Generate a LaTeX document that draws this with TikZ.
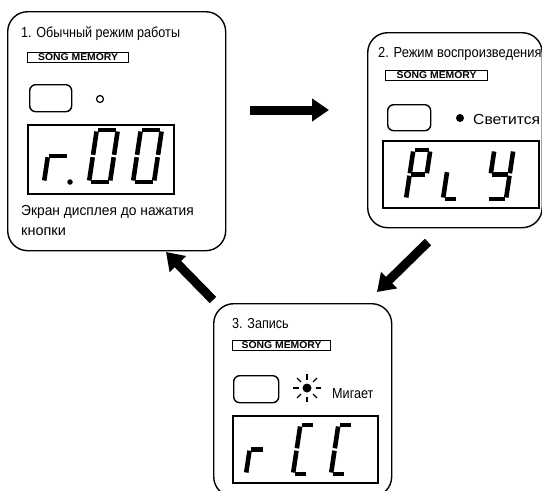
\documentclass[tikz,border=0pt]{standalone}
\usepackage{fontspec}
\setmainfont{Liberation Sans}
\usetikzlibrary{arrows.meta,calc}
\tikzset{
 panel/.style={draw, line width=1.4pt, rounded corners=20pt, anchor=north west, inner sep=0},
 smbox/.style={draw, line width=1.1pt, anchor=north west, inner sep=0, minimum height=10pt},
 btn/.style={draw, line width=1.4pt, rounded corners=6pt, anchor=north west, inner sep=0},
 disp/.style={draw, line width=1.8pt, anchor=north west, inner sep=0},
 lbl/.style={anchor=base west, inner sep=0, font=\fontsize{14.5}{16}\selectfont},
 segline/.style={line width=4.6pt},
 bigarrow/.style={line width=9pt, -{Triangle[width=22pt,length=17pt]}},
 ray/.style={line width=1.3pt},
}
\newcommand\smtext{\scalebox{1.05}[1]{\fontsize{9.9}{10}\selectfont\bfseries SONG MEMORY}}
\newcommand\tx[2]{\scalebox{#1}[1]{#2}}
\newcommand\sevdig[5]{%
\begin{scope}[shift={(#1,#2)}, y=1pt, xslant=0.15]
 \pgfmathsetmacro\hh{#4/2}
 \coordinate (sa1) at (1.5,#4); \coordinate (sa2) at (#3-1.5,#4);
 \coordinate (sb1) at (#3,#4-1.5); \coordinate (sb2) at (#3,\hh+1.2);
 \coordinate (sc1) at (#3,\hh-1.2); \coordinate (sc2) at (#3,1.5);
 \coordinate (sd1) at (1.5,0); \coordinate (sd2) at (#3-1.5,0);
 \coordinate (se1) at (0,1.5); \coordinate (se2) at (0,\hh-1.2);
 \coordinate (sf1) at (0,\hh+1.2); \coordinate (sf2) at (0,#4-1.5);
 \coordinate (sg1) at (1.5,\hh); \coordinate (sg2) at (#3-1.5,\hh);
 \foreach \s in {#5}{\draw[segline] (s\s1) -- (s\s2);}
\end{scope}}
\begin{document}
\begin{tikzpicture}[x=1pt,y=-1pt]
\useasboundingbox (0,0) rectangle (542,491);
% panels
\node[panel, minimum width=218pt, minimum height=239pt] (p1) at (7,11) {};
\node[panel, minimum width=174.5pt, minimum height=195pt] (p2) at (367,32) {};
\node[panel, minimum width=178pt, minimum height=193pt] (p3) at (213,303) {};
% panel 1
\node[lbl] (t1) at (21,37) {\tx{0.87}{1. Обычный режим работы}};
\node[smbox, minimum width=101pt] (sm1) at (27,52) {\smtext};
\node[btn, minimum width=42pt, minimum height=27pt] (b1) at (29,84) {};
\node[circle, draw, line width=1.2pt, inner sep=0, minimum size=7pt] (l1) at (100,99) {};
\node[disp, minimum width=146pt, minimum height=69pt] (d1) at (27,124) {};
\sevdig{44}{182}{21}{52}{e,g}
\node[circle, fill, inner sep=0, minimum size=5.5pt] (dot1) at (70,182) {};
\sevdig{89}{182}{21}{52}{a,b,c,d,e,f}
\sevdig{133}{182}{21}{52}{a,b,c,d,e,f}
\node[lbl] (t1b) at (21,215) {\tx{0.95}{Экран дисплея до нажатия}};
\node[lbl] (t1c) at (21,235) {\tx{1.0}{кнопки}};
% panel 2
\node[lbl] (t2) at (378,57) {\tx{0.89}{2. Режим воспроизведения}};
\node[smbox, minimum width=102pt] (sm2) at (385,70) {\smtext};
\node[btn, minimum width=43pt, minimum height=26pt] (b2) at (387,104) {};
\node[circle, fill, inner sep=0, minimum size=8pt] (l2) at (460,118) {};
\node[lbl] (t2b) at (473,124) {\tx{1.08}{Светится}};
\node[disp, minimum width=156pt, minimum height=67pt] (d2) at (382,140) {};
\sevdig{406}{199}{17}{49}{a,b,e,f,g}
\sevdig{443}{199}{14}{56}{d,e}
\sevdig{487}{199}{19}{49}{b,c,d,f,g}
% panel 3
\node[lbl] (t3) at (232,328) {\tx{0.87}{3. Запись}};
\node[smbox, minimum width=98pt] (sm3) at (232,340) {\smtext};
\node[btn, minimum width=45pt, minimum height=27pt] (b3) at (233,375) {};
\node[circle, fill, inner sep=0, minimum size=9pt] (l3) at (307,388) {};
\foreach \a in {0,45,...,315}{\draw[ray] ($(l3)+(\a:8.5)$) -- ($(l3)+(\a:14)$);}
\node[lbl] (t3b) at (332,398) {\tx{0.87}{Мигает}};
\node[disp, minimum width=145pt, minimum height=67pt] (d3) at (232,415) {};
\sevdig{246}{474}{15}{49}{e,g}
\sevdig{293}{474}{14}{49}{a,d,e,f}
\sevdig{331}{474}{14}{49}{a,d,e,f}
% arrows
\coordinate (a1s) at (250,110); \coordinate (a1e) at (329,110);
\coordinate (a2s) at (428,242); \coordinate (a2e) at (377,292);
\coordinate (a3s) at (213,300); \coordinate (a3e) at (166,252);
\draw[bigarrow] (a1s) -- (a1e);
\draw[bigarrow] (a2s) -- (a2e);
\draw[bigarrow] (a3s) -- (a3e);
\end{tikzpicture}
\end{document}
